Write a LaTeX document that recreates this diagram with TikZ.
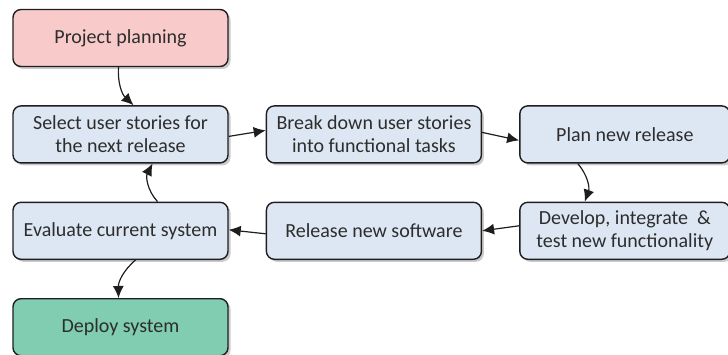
\documentclass[tikz,border=0pt]{standalone}
\usepackage{fontspec}
\setmainfont{Carlito}
\usetikzlibrary{arrows.meta,positioning,shadows}
\definecolor{planpink}{RGB}{248,202,202}
\definecolor{stepblue}{RGB}{221,231,243}
\definecolor{deploygreen}{RGB}{128,205,177}
\definecolor{boxline}{RGB}{30,30,30}
\definecolor{boxtext}{RGB}{45,45,45}

\begin{document}
\begin{tikzpicture}[
    x=1pt,y=1pt,
    node distance=38pt and 37pt,
    box/.style={rectangle,rounded corners=8pt,draw=boxline,fill=stepblue,line width=1.4pt,
      minimum width=215pt,minimum height=57pt,align=center,text=boxtext,
      font=\fontsize{20}{23}\selectfont,inner sep=2pt,
      drop shadow={shadow xshift=2.5pt,shadow yshift=-2.5pt,fill=black!45,opacity=0.45}},
    arrow/.style={-{Latex[length=12pt,width=11pt]},line width=1.2pt,draw=boxline}
  ]
    \useasboundingbox (0,0) rectangle (728,354);
    \node[box,fill=planpink] (plan) at (120.5,316) {Project planning};
    \node[box,below=of plan] (select) {Select user stories for\\the next release};
    \node[box,right=of select] (breakdown) {Break down user stories\\into functional tasks};
    \node[box,right=of breakdown,minimum width=210pt] (release) {Plan new release};
    \node[box,below=of release,minimum width=210pt] (develop) {Develop, integrate \ \&\\test new functionality};
    \node[box,below=of breakdown] (software) {Release new software};
    \node[box,below=of select] (evaluate) {Evaluate current system};
    \node[box,fill=deploygreen,below=of evaluate] (deploy) {Deploy system};

    \draw[arrow] ([xshift=-2pt]plan.south) to[bend right=25] ([xshift=13pt]select.north);
    \draw[arrow] ([yshift=-2pt]select.east) -- ([yshift=4pt]breakdown.west);
    \draw[arrow] ([yshift=2pt]breakdown.east) -- ([yshift=-6pt]release.west);
    \draw[arrow] ([xshift=-47pt]release.south) to[bend left=30] ([xshift=-40pt]develop.north);
    \draw[arrow] ([yshift=5pt]develop.west) -- (software.east);
    \draw[arrow] ([yshift=-3pt]software.west) -- ([yshift=1pt]evaluate.east);
    \draw[arrow] ([xshift=37pt]evaluate.north) to[bend left=35] ([xshift=32pt]select.south);
    \draw[arrow] ([xshift=15pt]evaluate.south) to[bend right=25] ([xshift=-2pt]deploy.north);
  \end{tikzpicture}
\end{document}
